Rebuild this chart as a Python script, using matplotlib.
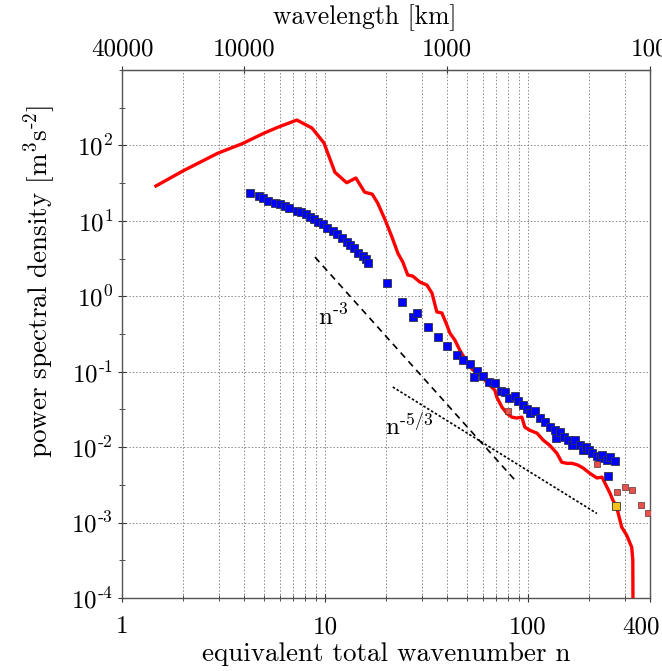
import matplotlib
matplotlib.use("Agg")
import matplotlib.pyplot as plt
import matplotlib.transforms as mtransforms
import numpy as np
from matplotlib.ticker import FixedLocator, NullLocator, NullFormatter

plt.rcParams['font.family'] = 'serif'
plt.rcParams['font.serif'] = ['cmr10']
plt.rcParams['mathtext.fontset'] = 'cm'
plt.rcParams['axes.formatter.use_mathtext'] = True

# Modell-Spektrum (rote Linie)
model_n = [1.47, 2.0, 2.97, 3.9, 5.0, 5.86, 7.27, 8.63, 9.89, 11.2, 12.8, 14.2, 15.7,
           17.1, 18.2, 19.8, 21.4, 22.9, 24.2, 25.6, 27.1, 29.4, 31.8, 33.7, 35.6,
           37.7, 39.9, 41.3, 43.7, 46.2, 50.1, 53.6, 58.0, 61.4, 65.0, 68.7, 70.3,
           74.5, 78.8, 83.4, 88.3, 93.4, 96.6, 102, 111, 119, 128, 139, 147, 156,
           165, 176, 187, 202, 219, 232, 239, 254, 262, 274, 290, 307, 325, 329, 330]
model_p = [29, 46, 79, 105, 145, 174, 217, 170, 108, 44, 32, 37, 24,
           22.6, 17.2, 10.3, 6.1, 3.7, 2.84, 1.91, 1.85, 1.54, 1.41, 1.10, 0.62,
           0.60, 0.415, 0.325, 0.262, 0.193, 0.134, 0.105, 0.096, 0.077, 0.066, 0.057, 0.046,
           0.034, 0.028, 0.025, 0.0243, 0.025, 0.0184, 0.0168, 0.0153, 0.0124, 0.0106, 0.0083, 0.0063, 0.0061,
           0.0061, 0.0058, 0.0053, 0.0045, 0.0039, 0.0040, 0.0034, 0.00245, 0.0020, 0.0016, 0.00087, 0.00068,
           0.00047, 0.00032, 0.00005]

# Beobachtungen (blaue Quadrate)
obs_n = [4.27, 4.73, 4.95, 5.24, 5.67, 6.0, 6.35, 6.65, 7.28, 7.62, 8.06, 8.44, 8.83,
         9.24, 9.78, 10.2, 10.9, 11.5, 12.1, 12.8, 13.3, 13.9, 14.5, 15.4, 15.9, 16.3,
         20.2, 23.9, 27.1, 28.4, 32.2, 36.0, 39.9, 44.7, 47.8, 51.8, 56.1, 54.2, 60.0,
         64.2, 68.8, 73.6, 77.0, 80.6, 86.3, 89.3, 94.5, 98.9, 102, 108, 115, 121, 128,
         136, 137, 144, 150, 157, 165, 170, 180, 187, 193, 200, 207, 219, 226, 232, 245,
         254, 268, 248]
obs_p = [23.4, 21.3, 20.1, 18.3, 17.2, 16.7, 15.7, 14.8, 13.5, 13.1, 12.3, 11.2, 10.6,
         9.6, 9.1, 8.0, 7.3, 6.7, 5.9, 5.2, 4.8, 4.36, 3.74, 3.41, 3.11, 2.75,
         1.50, 0.84, 0.53, 0.60, 0.39, 0.288, 0.219, 0.166, 0.143, 0.126, 0.102, 0.085, 0.0875,
         0.0728, 0.0706, 0.0553, 0.0536, 0.0447, 0.0474, 0.0407, 0.0361, 0.0319, 0.0282, 0.030, 0.0243, 0.0215, 0.0184,
         0.0168, 0.0132, 0.0158, 0.0136, 0.0124, 0.0106, 0.0124, 0.0106, 0.0091, 0.0100, 0.0091, 0.0083, 0.0076, 0.0071, 0.0078, 0.0067,
         0.0074, 0.0065, 0.0041]

# einzelne rote und gelbe Punkte
extra_n = [79.7, 219, 274, 300, 325, 360, 390]
extra_p = [0.030, 0.0060, 0.00253, 0.00294, 0.00269, 0.0017, 0.00133]
yellow_n = [271]
yellow_p = [0.00165]

# Referenzgeraden
slope3_n = [8.93, 86.3]
slope3_c = 2357.0
slope53_n = [21.6, 219]
slope53_c = 10.5

fig = plt.figure(figsize=(6.62, 6.71), dpi=100)
ax = fig.add_axes([0.1843, 0.1088, 0.7976, 0.7869])

ax.plot(model_n, model_p, color='#ff0000', lw=2.4, zorder=3)
ax.plot(obs_n, obs_p, ls='none', marker='s', ms=5.3, mfc='#0000ff', mec='#333344', mew=0.6, zorder=4)
ax.plot(extra_n, extra_p, ls='none', marker='s', ms=4, mfc='#e8504a', mec='#553333', mew=0.5, zorder=5)
ax.plot(yellow_n, yellow_p, ls='none', marker='s', ms=5.5, mfc='#f2c21b', mec='#333333', mew=0.6, zorder=6)

n3 = np.array(slope3_n)
ax.plot(n3, slope3_c * n3 ** -3.0, color='black', lw=1.2, ls=(0, (4, 3)), zorder=2)
n53 = np.array(slope53_n)
ax.plot(n53, slope53_c * n53 ** (-5.0 / 3.0), color='black', lw=1.2, ls=(0, (1.5, 1.2)), zorder=2)

ax.text(9.2, 0.415, r'n$^{\text{-3}}$', fontsize=18, ha='left', va='baseline')
ax.text(19.8, 0.0144, r'n$^{\text{-5/3}}$', fontsize=18, ha='left', va='baseline')

ax.set_xscale('log')
ax.set_yscale('log')
ax.set_xlim(1, 400)
ax.set_ylim(1e-4, 1e3)

# Achsenbeschriftung unten
ax.xaxis.set_major_locator(FixedLocator([1, 10, 100, 400]))
ax.set_xticklabels(['1', '10', '100', '400'])
minor_x = [k * 10 ** e for e in range(0, 3) for k in range(2, 10) if k * 10 ** e < 400]
ax.xaxis.set_minor_locator(FixedLocator(minor_x))
ax.xaxis.set_minor_formatter(NullFormatter())

yt = [10.0 ** k for k in range(-4, 3)]
ax.yaxis.set_major_locator(FixedLocator(yt))
ax.set_yticklabels([r'$10^{\text{%d}}$' % k for k in range(-4, 3)])
ax.yaxis.set_minor_locator(FixedLocator([10.0 ** (k + 0.5) for k in range(-4, 3)] + [1e3]))
ax.yaxis.set_minor_formatter(NullFormatter())

ax.tick_params(which='both', direction='inout', labelsize=18, top=False, right=False,
               color='#333333')
ax.tick_params(which='major', length=6)
ax.tick_params(which='minor', length=5)
ax.tick_params(axis='x', pad=10)
for s in ax.spines.values():
    s.set_color('#555555')
    s.set_linewidth(1.0)

ax.grid(True, which='both', axis='x', ls=(0, (1.5, 2)), color='#8a8a8a', lw=0.7)
ax.grid(True, which='major', axis='y', ls=(0, (1.5, 2)), color='#8a8a8a', lw=0.7)
ax.set_axisbelow(True)

ax.set_xlabel('equivalent total wavenumber n', fontsize=19.5, labelpad=3)
ax.set_ylabel(r'power spectral density [m$^{\text{3}}$s$^{\text{-2}}$]', fontsize=19.5, labelpad=9)
ax.yaxis.label.set_y(0.6)

# Wellenlaenge oben
top = ax.secondary_xaxis('top', functions=(lambda n: 40000.0 / n, lambda w: 40000.0 / w))
top.xaxis.set_major_locator(FixedLocator([40000, 10000, 1000, 100]))
top.xaxis.set_minor_locator(NullLocator())
top.set_xticklabels(['40000', '10000', '1000', '100'])
top.tick_params(direction='inout', length=6, labelsize=18, color='#333333', pad=4)
top.spines['top'].set_color('#555555')
top.set_xlabel('wavelength [km]', fontsize=18.5, labelpad=10)
top.xaxis.label.set_x(0.46)

# letzte Beschriftung unten etwas nach links
shift = mtransforms.ScaledTranslation(-9 / 100.0, 0, fig.dpi_scale_trans)
lab = ax.get_xticklabels()[-1]
lab.set_transform(lab.get_transform() + shift)

fig.savefig('out.png', dpi=100)
